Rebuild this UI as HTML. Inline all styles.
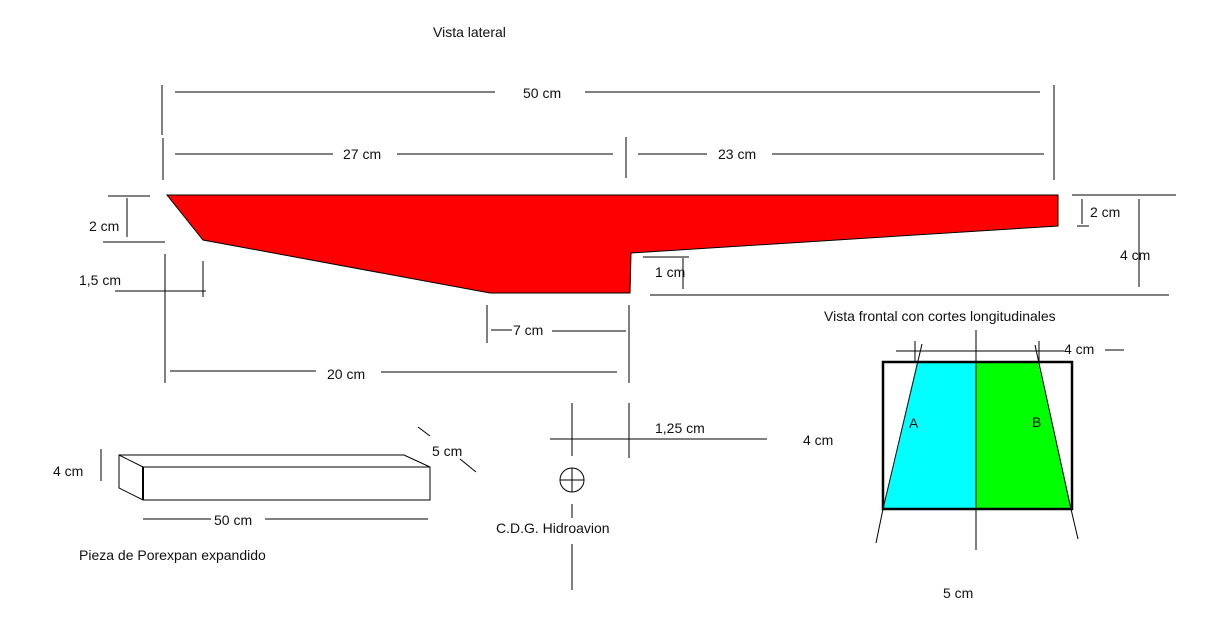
<!DOCTYPE html>
<html><head><meta charset="utf-8"><style>
html,body{margin:0;padding:0;background:#fff;}
svg{display:block;}
text{font-family:"Liberation Sans",Arial,sans-serif;font-size:14px;fill:#111;}
</style></head><body>
<svg width="1209" height="628" viewBox="0 0 1209 628" xmlns="http://www.w3.org/2000/svg">
<g stroke="#000" stroke-width="1" fill="none">
<!-- top dims -->
<line x1="162" y1="85" x2="162" y2="135"/>
<line x1="163" y1="138" x2="163" y2="180"/>
<line x1="1054" y1="85" x2="1054" y2="180"/>
<line x1="175" y1="92" x2="495" y2="92"/>
<line x1="585" y1="92" x2="1040" y2="92"/>
<line x1="175" y1="154" x2="333" y2="154"/>
<line x1="397" y1="154" x2="613" y2="154"/>
<line x1="626" y1="137" x2="626" y2="178"/>
<line x1="638" y1="154" x2="707" y2="154"/>
<line x1="772" y1="154" x2="1044" y2="154"/>
<!-- left dims -->
<line x1="108" y1="196" x2="150" y2="196"/>
<line x1="127" y1="198" x2="127" y2="237"/>
<line x1="103" y1="242" x2="165" y2="242"/>
<line x1="165" y1="254" x2="165" y2="383"/>
<line x1="203" y1="261" x2="203" y2="297"/>
<line x1="115" y1="291" x2="206" y2="291"/>
<!-- 7cm / 20cm -->
<line x1="487" y1="305" x2="487" y2="343"/>
<line x1="491" y1="330" x2="512" y2="330"/>
<line x1="552" y1="331" x2="626" y2="331"/>
<line x1="629" y1="305" x2="629" y2="383"/>
<line x1="170" y1="371" x2="316" y2="371"/>
<line x1="381" y1="372" x2="617" y2="372"/>
<!-- right dims -->
<line x1="1072" y1="195" x2="1176" y2="195"/>
<line x1="1082" y1="199" x2="1082" y2="224"/>
<line x1="1077" y1="226" x2="1089" y2="226"/>
<line x1="1139" y1="199" x2="1139" y2="287"/>
<line x1="643" y1="257" x2="689" y2="257"/>
<line x1="683" y1="258" x2="683" y2="289"/>
<line x1="650" y1="295" x2="1169" y2="295"/>
</g>
<polygon points="167,195 1058,195 1058,226 631,253 630,293 490,293 203,240" fill="#ff0000" stroke="#000" stroke-width="1"/>
<text x="433" y="37">Vista lateral</text>
<text x="523" y="98">50 cm</text>
<text x="343" y="159">27 cm</text>
<text x="718" y="159">23 cm</text>
<text x="89" y="231">2 cm</text>
<text x="79" y="285">1,5 cm</text>
<text x="1090" y="217">2 cm</text>
<text x="1120" y="260">4 cm</text>
<text x="655" y="277">1 cm</text>
<text x="513" y="335">7 cm</text>
<text x="327" y="379">20 cm</text>

<!-- front view -->
<text x="824" y="321">Vista frontal con cortes longitudinales</text>
<polygon points="917,362 976,362 976,509 883,509" fill="#00ffff"/>
<polygon points="976,362 1038,362 1071,509 976,509" fill="#00ff00"/>
<g stroke="#000" fill="none">
<rect x="883" y="362" width="189" height="147" stroke-width="2.5"/>
<line x1="976" y1="330" x2="976" y2="550"/>
<line x1="922" y1="344" x2="883" y2="509"/>
<line x1="883" y1="509" x2="876" y2="543"/>
<line x1="1035" y1="345" x2="1071" y2="509"/>
<line x1="1071" y1="509" x2="1078" y2="539"/>
<line x1="896" y1="351" x2="1064" y2="351"/>
<line x1="1105" y1="350" x2="1124" y2="350"/>
<line x1="915" y1="341" x2="915" y2="362"/>
<line x1="1039" y1="341" x2="1039" y2="362"/>
</g>
<text x="1064" y="354">4 cm</text>
<text x="909" y="428">A</text>
<text x="1032" y="427">B</text>
<text x="803" y="445">4 cm</text>
<text x="943" y="598">5 cm</text>

<!-- porexpan block -->
<g stroke="#000" fill="none">
<polygon points="119,455 404,455 430,467 430,500 143,500 119,488" fill="#fff"/>
<line x1="119" y1="455" x2="143" y2="467"/>
<line x1="143" y1="467" x2="430" y2="467"/>
<line x1="143" y1="467" x2="143" y2="500" stroke-width="2"/>
<line x1="101" y1="449" x2="101" y2="481"/>
<line x1="143" y1="519" x2="211" y2="519"/>
<line x1="265" y1="519" x2="428" y2="519"/>
<line x1="418" y1="427" x2="430" y2="436"/>
<line x1="460" y1="459" x2="476" y2="472"/>
</g>
<text x="53" y="476">4 cm</text>
<text x="432" y="456">5 cm</text>
<text x="214" y="525">50 cm</text>
<text x="79" y="560">Pieza de Porexpan expandido</text>

<!-- CDG -->
<g stroke="#000" fill="none">
<line x1="572" y1="403" x2="572" y2="456"/>
<line x1="629" y1="403" x2="629" y2="458"/>
<line x1="550" y1="439" x2="767" y2="439"/>
<ellipse cx="572" cy="480" rx="12" ry="12"/>
<line x1="560" y1="480" x2="584" y2="480"/>
<line x1="572" y1="468" x2="572" y2="492"/>
<line x1="572" y1="504" x2="572" y2="518"/>
<line x1="572" y1="544" x2="572" y2="590"/>
</g>
<text x="655" y="433">1,25 cm</text>
<text x="496" y="533">C.D.G. Hidroavion</text>
</svg>
</body></html>
